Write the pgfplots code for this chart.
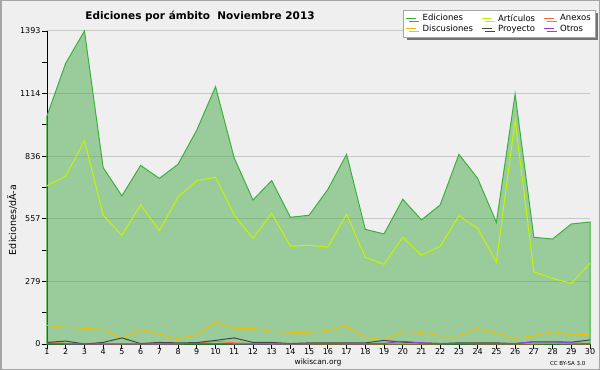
\documentclass[border=0pt]{standalone}
\usepackage{pgfplots}
\pgfplotsset{compat=1.18}
\usepackage{fontspec}
\setmainfont{DejaVu Sans}
\usetikzlibrary{shadows}
\definecolor{bgc}{RGB}{239,239,240}
\definecolor{brd}{RGB}{165,165,165}
\definecolor{edl}{RGB}{60,176,60}
\definecolor{edf}{RGB}{60,165,60}
\definecolor{art}{RGB}{195,245,0}
\definecolor{dis}{RGB}{240,192,0}
\definecolor{anx}{RGB}{255,110,60}
\definecolor{pro}{RGB}{70,70,70}
\definecolor{otr}{RGB}{150,60,230}
\definecolor{grd}{RGB}{200,200,200}
\begin{document}
\begin{tikzpicture}
\fill[bgc] (0bp,0bp) rectangle (600bp,370bp);
\draw[brd, line width=1.5bp] (0.75bp,0.75bp) rectangle (599.25bp,369.25bp);
\node[font=\fontsize{10.5bp}{12bp}\selectfont\bfseries] at (200bp,354bp) {Ediciones por ámbito\ \ Noviembre 2013};
\node[font=\fontsize{7.5bp}{9bp}\selectfont] at (318bp,8bp) {wikiscan.org};
\node[font=\fontsize{5.5bp}{7bp}\selectfont, anchor=east] at (589bp,7bp) {CC BY-SA 3.0};
\begin{axis}[
  at={(47bp,26bp)}, anchor=south west,
  scale only axis, width=543bp, height=313bp,
  xmin=1, xmax=30, ymin=0, ymax=1393,
  clip=false,
  axis x line=bottom, axis y line=left,
  axis line style={-, black, line width=0.8bp},
  xtick={1,...,30},
  ytick={0,278.6,557.2,835.8,1114.4,1393},
  yticklabels={0,279,557,836,1114,1393},
  minor y tick num=1,
  tick align=outside,
  major tick length=5bp, minor tick length=5bp,
  tick style={black, line width=0.8bp},
  ymajorgrids,
  major grid style={grd, line width=1bp},
  /pgf/number format/assume math mode=true,
  tick label style={font=\fontsize{8bp}{9bp}\selectfont},
  xticklabel style={yshift=4bp},
  yticklabel style={xshift=2bp},
  ylabel={Ediciones/dÃ-a},
  ylabel style={at={(axis description cs:-0.064,0.396)}, anchor=center, font=\fontsize{9.5bp}{11bp}\selectfont},
  legend columns=3,
  legend cell align=left,
  legend image code/.code={\draw[#1, line width=1bp, fill=none] (0bp,0bp) -- (10bp,0bp);},
  legend style={at={(axis description cs:1.0092,1.067)}, anchor=north east,
    draw=brd, fill=white, font=\fontsize{8.5bp}{9.5bp}\selectfont,
    inner sep=2bp, row sep=-1.5bp,
    drop shadow={shadow xshift=3bp, shadow yshift=-3bp, fill=black!55, opacity=1},
    /tikz/every odd column/.append style={column sep=4bp},
    /tikz/every even column/.append style={column sep=6bp}},
]
\addplot[edl, line width=1bp, fill=edf, fill opacity=0.47] coordinates {
(1,1015)(2,1250)(3,1393)(4,785)(5,659)(6,795)(7,737)(8,800)(9,952)(10,1145)
(11,827)(12,641)(13,727)(14,564)(15,573)(16,688)(17,844)(18,510)(19,490)(20,644)
(21,552)(22,619)(23,844)(24,737)(25,541)(26,1112)(27,475)(28,467)(29,534)(30,543)
} \closedcycle;
\addlegendentry{Ediciones}
\addplot[art, line width=1bp] coordinates {
(1,704)(2,748)(3,905)(4,573)(5,484)(6,619)(7,504)(8,654)(9,728)(10,742)
(11,573)(12,470)(13,582)(14,435)(15,439)(16,432)(17,578)(18,386)(19,355)(20,475)
(21,395)(22,435)(23,571)(24,515)(25,364)(26,997)(27,322)(28,292)(29,270)(30,359)
};
\addlegendentry{Artículos}
\addplot[anx, line width=1bp] coordinates {
(1,7)(2,3)(3,1)(4,1)(5,1)(6,1)(7,1)(8,1)(9,5)(10,12)
(11,5)(12,2)(13,1)(14,1)(15,1)(16,1)(17,1)(18,1)(19,1)(20,1)
(21,1)(22,1)(23,3)(24,1)(25,1)(26,1)(27,1)(28,3)(29,1)(30,1)
};
\addlegendentry{Anexos}
\addplot[dis, line width=1bp] coordinates {
(1,83)(2,74)(3,70)(4,65)(5,25)(6,65)(7,43)(8,24)(9,40)(10,98)
(11,70)(12,70)(13,56)(14,52)(15,52)(16,61)(17,80)(18,30)(19,18)(20,56)
(21,52)(22,36)(23,36)(24,70)(25,48)(26,25)(27,36)(28,56)(29,40)(30,44)
};
\addlegendentry{Discusiones}
\addplot[pro, line width=1bp] coordinates {
(1,7)(2,13)(3,0)(4,7)(5,27)(6,2)(7,7)(8,5)(9,6)(10,16)
(11,27)(12,7)(13,7)(14,2)(15,5)(16,5)(17,5)(18,5)(19,16)(20,8)
(21,5)(22,2)(23,5)(24,5)(25,5)(26,2)(27,10)(28,10)(29,8)(30,18)
};
\addlegendentry{Proyecto}
\addplot[otr, line width=1bp] coordinates {
(1,3)(2,1)(3,1)(4,1)(5,1)(6,1)(7,1)(8,1)(9,3)(10,2)
(11,1)(12,1)(13,1)(14,1)(15,1)(16,3)(17,1)(18,1)(19,3)(20,12)
(21,5)(22,2)(23,2)(24,2)(25,2)(26,2)(27,10)(28,10)(29,5)(30,2)
};
\addlegendentry{Otros}
\end{axis}
\end{tikzpicture}
\end{document}
